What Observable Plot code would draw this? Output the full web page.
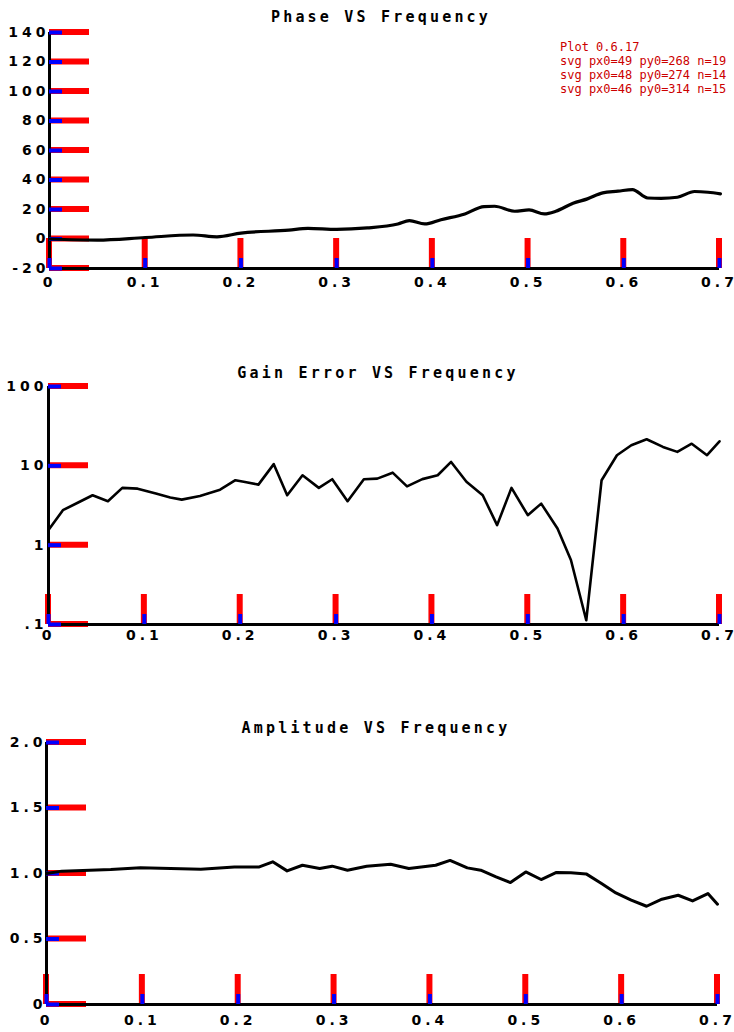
<!DOCTYPE html>
<html><head><meta charset="utf-8">
<script src="https://cdn.jsdelivr.net/npm/d3@7"></script>
<script src="https://cdn.jsdelivr.net/npm/@observablehq/plot@0.6"></script>
<style>
body{margin:0;background:#fff;}
#root{position:relative;width:734px;height:1032px;overflow:hidden;background:#fff;}
.panel{position:absolute;left:0;width:734px;}
.panel svg{max-width:none !important;}
.panel svg text{font-family:"DejaVu Sans" !important;font-weight:bold !important;font-size:14px !important;letter-spacing:4px;fill:#000;}
.title{position:absolute;width:734px;text-align:center;font-family:"DejaVu Sans Mono";font-weight:bold;font-size:15px;letter-spacing:3.2px;color:#000;line-height:15px;white-space:nowrap;}
#diag{position:absolute;left:560px;top:40px;font:12px monospace;color:#c00;}
</style></head><body><div id="root"></div>
<script>
// ---- data ----
const freqTicks = [0, 0.1, 0.2, 0.3, 0.4, 0.5, 0.6, 0.7];
const freqTickLabels = ["0", "0.1", "0.2", "0.3", "0.4", "0.5", "0.6", "0.7"];

const phaseTitle = "Phase VS Frequency";
const phaseTicks = [-20, 0, 20, 40, 60, 80, 100, 120, 140];
const phaseTickLabels = ["-20", "0", "20", "40", "60", "80", "100", "120", "140"];
const phaseFreq = [0, 0.05, 0.1, 0.15, 0.175, 0.2, 0.25, 0.27, 0.3, 0.332, 0.364, 0.376, 0.392, 0.409, 0.434, 0.454, 0.465, 0.486, 0.501, 0.517, 0.529, 0.547, 0.562, 0.578, 0.594, 0.609, 0.625, 0.639, 0.656, 0.674, 0.688, 0.701];
const phaseDeg = [0, -0.7, 1, 2.7, 1.5, 4, 6, 7.2, 6.5, 7.5, 10.2, 12.4, 10.2, 13.1, 17, 22, 22.2, 18.8, 19.7, 17, 18.8, 24.2, 27.2, 31.3, 32.4, 33.5, 27.8, 27.6, 28.3, 32.2, 31.7, 30.6];

const gainTitle = "Gain Error VS Frequency";
const gainTicks = [0.1, 1, 10, 100];
const gainTickLabels = [".1", "1", "10", "100"];
const gainFreq = [0, 0.015, 0.032, 0.046, 0.062, 0.077, 0.093, 0.112, 0.127, 0.139, 0.158, 0.179, 0.195, 0.205, 0.219, 0.235, 0.249, 0.265, 0.282, 0.296, 0.312, 0.329, 0.343, 0.359, 0.374, 0.39, 0.406, 0.42, 0.436, 0.453, 0.468, 0.483, 0.5, 0.514, 0.531, 0.545, 0.561, 0.577, 0.593, 0.608, 0.624, 0.641, 0.656, 0.671, 0.687, 0.7];
const gainErr = [1.55, 2.76, 3.5, 4.26, 3.58, 5.27, 5.16, 4.47, 3.98, 3.75, 4.17, 5.0, 6.59, 6.27, 5.8, 10.5, 4.26, 7.6, 5.27, 6.78, 3.58, 6.78, 6.9, 8.2, 5.5, 6.8, 7.6, 11.2, 6.3, 4.26, 1.79, 5.27, 2.39, 3.34, 1.62, 0.65, 0.113, 6.59, 13.6, 18.2, 21.6, 17.3, 15, 19, 13.6, 20.4];

const ampTitle = "Amplitude VS Frequency";
const ampTicks = [0, 0.5, 1, 1.5, 2];
const ampTickLabels = ["0", "0.5", "1.0", "1.5", "2.0"];
const ampFreq = [0, 0.016, 0.067, 0.098, 0.161, 0.196, 0.222, 0.236, 0.251, 0.267, 0.285, 0.298, 0.314, 0.334, 0.359, 0.378, 0.406, 0.421, 0.439, 0.453, 0.469, 0.484, 0.5, 0.516, 0.532, 0.547, 0.563, 0.579, 0.594, 0.61, 0.626, 0.642, 0.659, 0.674, 0.69, 0.7];
const ampVal = [1.0, 1.018, 1.03, 1.043, 1.033, 1.05, 1.05, 1.089, 1.02, 1.063, 1.038, 1.056, 1.025, 1.055, 1.071, 1.038, 1.063, 1.1, 1.043, 1.025, 0.974, 0.931, 1.012, 0.954, 1.008, 1.005, 0.997, 0.924, 0.852, 0.796, 0.75, 0.804, 0.834, 0.791, 0.847, 0.766];

// ---- drawing ----
const root = document.getElementById("root");
const W = 734;
const Y_TICK_LEN = 13, X_TICK_LEN = 10;
const diag = [];

function addTitle(text, top, left) {
  const d = document.createElement("div");
  d.className = "title";
  d.style.top = top + "px";
  d.style.left = left + "px";
  d.textContent = text;
  root.appendChild(d);
}

function panel(cfg) {
  const data = cfg.xs.map((x, i) => ({f: x, v: cfg.ys[i]}));
  const fmtY = d => cfg.yLabels[cfg.yTicks.indexOf(d)];
  const fmtX = d => freqTickLabels[freqTicks.indexOf(d)];
  const x0 = freqTicks[0];
  const y0 = cfg.yDomain[0];
  const frameW = W - cfg.ml - cfg.mr;
  const frameH = cfg.height - cfg.mt - cfg.mb;
  const chart = Plot.plot({
    width: W,
    height: cfg.height,
    marginLeft: cfg.ml, marginRight: cfg.mr, marginTop: cfg.mt, marginBottom: cfg.mb,
    x: {domain: [0, 0.7], label: null},
    y: {type: cfg.type || "linear", domain: cfg.yDomain, label: null},
    style: {color: "#000", background: "transparent", overflow: "visible"},
    marks: [
      Plot.ruleX([x0], {stroke: "#000", strokeWidth: 3}),
      Plot.ruleY([y0], {stroke: "#000", strokeWidth: 3}),
      Plot.ruleY(cfg.yTicks, {y: d => d, insetRight: frameW - Y_TICK_LEN, stroke: "blue", strokeWidth: 4}),
      Plot.ruleX(freqTicks, {x: d => d, insetTop: frameH - X_TICK_LEN, stroke: "blue", strokeWidth: 4}),
      Plot.axisY({ticks: cfg.yTicks, tickSize: 0, tickPadding: cfg.yPad, dx: 4, tickFormat: fmtY, label: null}),
      Plot.axisX({ticks: freqTicks, tickSize: 0, tickPadding: cfg.xPad, tickFormat: fmtX, label: null}),
      Plot.line(data, {x: "f", y: "v", stroke: "#000", strokeWidth: cfg.sw, curve: cfg.curve || "linear", strokeLinejoin: "round", strokeLinecap: "round"})
    ]
  });
  const svgEl = chart.tagName.toLowerCase() === "svg" ? chart : chart.querySelector("svg");
  const sx = chart.scale("x"), sy = chart.scale("y");
  const px0 = sx.apply(x0), py0 = sy.apply(y0);
  diag.push(chart.tagName + " px0=" + px0 + " py0=" + py0 + " n=" + chart.querySelectorAll("line").length);
  if (svgEl) {
    const g = d3.select(svgEl).insert("g", ":first-child").attr("stroke", "red").attr("stroke-width", 6);
    g.selectAll("line.yt").data(cfg.yTicks).join("line").attr("class", "yt")
      .attr("x1", px0).attr("x2", px0 + 40)
      .attr("y1", d => sy.apply(d)).attr("y2", d => sy.apply(d));
    g.selectAll("line.xt").data(freqTicks).join("line").attr("class", "xt")
      .attr("x1", d => sx.apply(d)).attr("x2", d => sx.apply(d))
      .attr("y1", py0).attr("y2", py0 - 30);
  }
  const wrap = document.createElement("div");
  wrap.className = "panel";
  wrap.style.top = cfg.top + "px";
  wrap.appendChild(chart);
  root.appendChild(wrap);
}

addTitle(phaseTitle, 10, 14);
panel({top: 0, height: 300, ml: 49, mr: 15, mt: 32, mb: 32, yDomain: [-20, 140], yTicks: phaseTicks, yLabels: phaseTickLabels,
  xs: phaseFreq, ys: phaseDeg, sw: 3.2, curve: "monotone-x", yPad: 4, xPad: 9});

addTitle(gainTitle, 366, 11);
panel({top: 350, height: 300, ml: 48, mr: 15, mt: 36, mb: 26, type: "log", yDomain: [0.1, 100], yTicks: gainTicks, yLabels: gainTickLabels,
  xs: gainFreq, ys: gainErr, sw: 2.6, yPad: 5, xPad: 6});

addTitle(ampTitle, 721, 9);
panel({top: 690, height: 342, ml: 46, mr: 17, mt: 52, mb: 28, yDomain: [0, 2], yTicks: ampTicks, yLabels: ampTickLabels,
  xs: ampFreq, ys: ampVal, sw: 3, yPad: 4, xPad: 11});

const dd = document.createElement("div");
dd.id = "diag";
dd.innerHTML = "Plot " + Plot.version + "<br>" + diag.join("<br>");
root.appendChild(dd);
</script>
</body></html>
